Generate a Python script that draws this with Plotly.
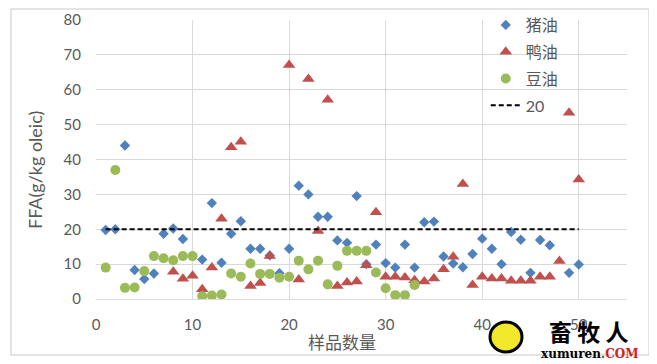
import plotly.graph_objects as go

# ---- data ----
sample_no = list(range(1, 51))
lard = [19.8, 20, 44, 8.3, 5.7, 7.3, 18.7, 20.2, 17.2, None,
        11.3, 27.5, 10.4, 18.7, 22.3, 14.4, 14.4, 12.5, 7.4, 14.4,
        32.5, 30, 23.6, 23.6, 16.8, 16.1, 29.5, 10, 15.6, 10.3,
        9, 15.6, 9, 22, 22.2, 12.2, 10.2, 9.1, 12.9, 17.3,
        14.4, 10, 19.2, 17, 7.5, 16.9, 15.4, None, 7.5, 9.9]
duck = [None, None, None, None, None, None, None, 7.8, 5.8, 6.7,
        2.8, 9, 23, 43.5, 45.1, 3.7, 4.6, 12.3, None, 67.1,
        5.6, 63.1, 19.5, 57.1, 3.7, 4.7, 5, 9.7, 24.9, 6.4,
        6.4, 6.2, 5.4, 5, 5.9, 8.5, 12.1, 33, 4, 6.4,
        5.9, 5.9, 5.2, 5.2, 5.2, 6.4, 6.4, 10.9, 53.4, 34.3]
soy = [9, 37, 3.2, 3.3, 8, 12.3, 11.7, 11.1, 12.3, 12.3,
       0.8, 1, 1.3, 7.3, 6.4, 10.2, 7.2, 7.2, 6.1, 6.4,
       11, 8.5, 11, 4.2, 9.5, 13.8, 13.8, 13.8, 7.6, 3.1,
       1.1, 1.1, 4] + [None] * 17
threshold_x = [1, 50]
threshold_y = [20, 20]
series_names = ["猪油", "鸭油", "豆油", "20"]
x_ticks = [0, 10, 20, 30, 40, 50]
y_ticks = [0, 10, 20, 30, 40, 50, 60, 70, 80]

FONT = "Lato, 'Noto Sans CJK SC', sans-serif"
GRAY = "#595959"
GRID = "#D9D9D9"

fig = go.Figure()
fig.add_trace(go.Scatter(x=sample_no, y=lard, mode="markers", name=series_names[0],
                         legendgroup="a",
                         marker=dict(symbol="diamond", size=8, color="#4F81BD")))
fig.add_trace(go.Scatter(x=sample_no, y=duck, mode="markers", name=series_names[1],
                         legendgroup="b",
                         marker=dict(symbol="triangle-up", size=11, color="#C0504D")))
fig.add_trace(go.Scatter(x=sample_no, y=soy, mode="markers", name=series_names[2],
                         legendgroup="c",
                         marker=dict(symbol="circle", size=10, color="#9BBB59")))
fig.add_trace(go.Scatter(x=threshold_x, y=threshold_y, mode="lines", name=series_names[3],
                         legendgroup="d",
                         line=dict(color="black", width=2, dash="5px,3px")))

# page body has an 8px margin, so the figure is a bit smaller and shifted
fig.update_layout(
    width=649, height=356,
    margin=dict(l=88, r=30, t=12, b=65, autoexpand=False),
    paper_bgcolor="white", plot_bgcolor="white",
    font=dict(family=FONT, color=GRAY, size=15),
    legend=dict(x=0.734, y=1.043, xanchor="left", yanchor="top",
                bgcolor="rgba(0,0,0,0)", font=dict(size=16, color=GRAY),
                tracegroupgap=3, traceorder="grouped"),
    xaxis=dict(range=[0, 55], tickvals=x_ticks, showgrid=True, gridcolor=GRID,
               gridwidth=1, zeroline=False, showline=True, linecolor=GRID,
               ticks="", ticklabelstandoff=12, tickfont=dict(size=15, color=GRAY)),
    yaxis=dict(range=[0, 80], tickvals=y_ticks, showgrid=True, gridcolor=GRID,
               gridwidth=1, zeroline=False, showline=False,
               ticks="", ticklabelstandoff=14, tickfont=dict(size=15, color=GRAY)),
    showlegend=True,
)

# axis titles
fig.add_annotation(text="FFA(g/kg oleic)", xref="paper", yref="paper",
                   x=(35 - 96) / 531, y=(299 - 170) / 279, textangle=-90, showarrow=False,
                   xanchor="center", yanchor="middle",
                   font=dict(size=18, color=GRAY, family=FONT))
fig.add_annotation(text="样品数量", xref="paper", yref="paper",
                   x=(342 - 96) / 531, y=(299 - 342) / 279, showarrow=False,
                   xanchor="center", yanchor="middle",
                   font=dict(size=17, color=GRAY, family=FONT))

# outer chart border
fig.add_shape(type="rect", xref="paper", yref="paper",
              x0=(11 - 96) / 531, x1=(649 - 96) / 531,
              y0=(299 - 355) / 279, y1=(299 - 9) / 279,
              line=dict(color="#C8C8C8", width=1), fillcolor="rgba(0,0,0,0)", layer="above")

# watermark
fig.add_shape(type="circle", xref="paper", yref="paper",
              x0=(490 - 96) / 531, x1=(522 - 96) / 531,
              y0=(299 - 352) / 279, y1=(299 - 322) / 279,
              line=dict(color="black", width=3), fillcolor="#F2E82B")
fig.add_annotation(text="<b>畜 牧 人</b>", xref="paper", yref="paper",
                   x=(588 - 96) / 531, y=(299 - 331) / 279, showarrow=False,
                   xanchor="center", yanchor="middle",
                   font=dict(size=23, color="black", family="'Noto Sans CJK SC'"))
fig.add_annotation(text="<b>xumuren<span style='color:#D2201A'>.COM</span></b>",
                   xref="paper", yref="paper",
                   x=(589 - 96) / 531, y=(299 - 354) / 279, showarrow=False,
                   xanchor="center", yanchor="middle",
                   font=dict(size=12, color="black", family="'DejaVu Serif'"))

fig.write_html("out.html")
